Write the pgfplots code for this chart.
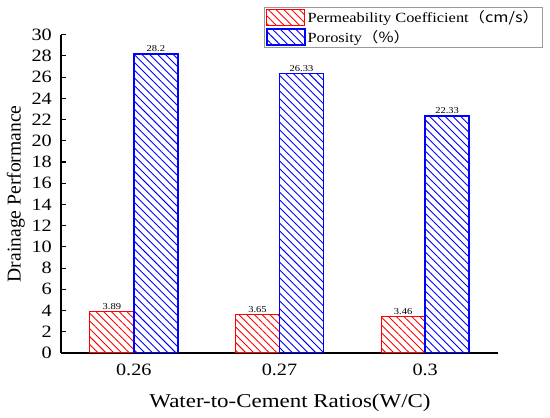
\documentclass[border=0pt]{standalone}
\usepackage{fontspec}
\setmainfont{Liberation Serif}[FakeStretch=1.17]
\newfontfamily\rotfont{Liberation Serif}
\newfontfamily\cjk{Noto Sans CJK SC}[FakeStretch=1.17]
\usepackage{pgfplots}
\pgfplotsset{compat=1.18}
\usetikzlibrary{patterns.meta}
\begin{document}
\begin{tikzpicture}
\begin{axis}[
  scale only axis,
  width=437pt, height=318.3pt,
  ybar=0pt, bar width=44pt,
  xmin=-0.5, xmax=2.5, ymin=0, ymax=30,
  axis x line=bottom, axis y line=left,
  axis line style={-, line width=1.1pt, black},
  xtick={0,1,2}, xticklabels={0.26,0.27,0.3},
  ytick={0,2,...,30},
  x tick style={draw=none},
  y tick style={line width=1.1pt, black},
  major tick length=5pt,
  tick align=inside,
  /pgf/number format/assume math mode=true,
  tick label style={font=\fontsize{17.3}{18}\selectfont},
  xticklabel style={anchor=base, yshift=-22.7pt},
  yticklabel style={anchor=east, inner sep=0pt, xshift=-9pt},
  xlabel={Water-to-Cement Ratios(W/C)},
  xlabel style={font=\fontsize{19.6}{20}\selectfont, at={(axis description cs:0.5,0)}, anchor=base, yshift=-55pt, xshift=10.5pt, inner sep=0pt},
  ylabel={Drainage Performance},
  ylabel style={font=\rotfont\fontsize{19.6}{20}\selectfont, at={(axis description cs:-0.0824,0.5)}, anchor=south, inner sep=0pt},
  nodes near coords,
  every node near coord/.append style={font=\fontsize{9}{9}\selectfont, black, inner sep=1.5pt, /pgf/number format/assume math mode=true},
  legend style={at={(1,1)}, anchor=north east, xshift=45pt, yshift=27.7pt, draw=gray!80, line width=0.8pt, font=\fontsize{14}{15}\selectfont, legend cell align=left, inner sep=1.5pt, row sep=2pt},
  legend image code/.code={\draw[#1] (0pt,-8pt) rectangle (38pt,8pt);},
]
\addplot[draw=red, line width=1.1pt, pattern={Lines[angle=-45, distance=5.5pt, line width=0.9pt]}, pattern color=red] coordinates {(0,3.89) (1,3.65) (2,3.46)};
\addlegendentry{Permeability Coefficient\cjk{（}cm/s\cjk{）}}
\addplot[draw=blue, line width=1.5pt, pattern={Lines[angle=-45, distance=5.5pt, line width=0.9pt]}, pattern color=blue] coordinates {(0,28.2) (1,26.33) (2,22.33)};
\addlegendentry{Porosity\cjk{（}\%\cjk{）}}
\coordinate (O) at (rel axis cs:0,0);
\end{axis}
\path[use as bounding box] ([shift={(-61pt,-65pt)}]O) rectangle ++(550pt,418pt);
\end{tikzpicture}
\end{document}
